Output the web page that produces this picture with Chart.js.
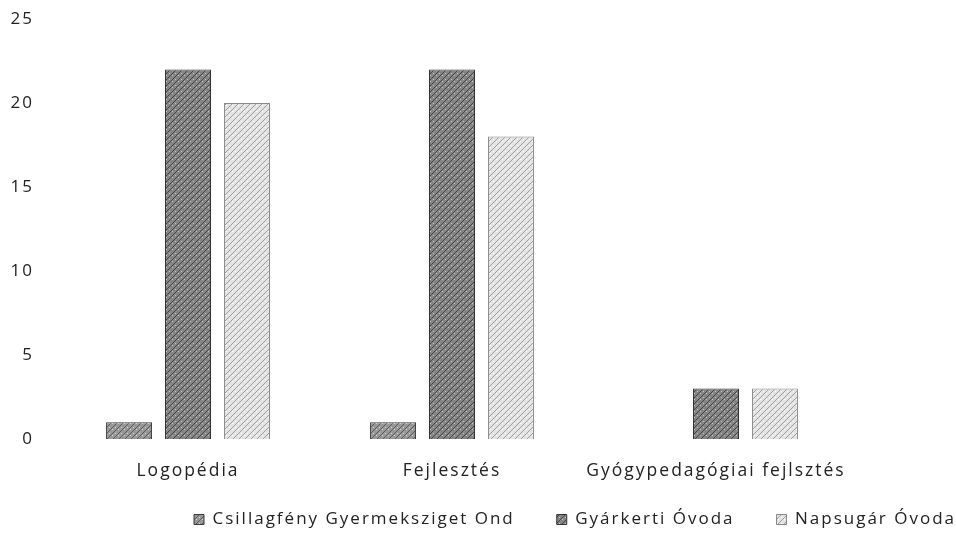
<!DOCTYPE html>
<html>
<head>
<meta charset="utf-8">
<script src="https://cdn.jsdelivr.net/npm/chart.js@4/dist/chart.umd.min.js"></script>
<style>
html,body{margin:0;padding:0;background:#fff;}
#wrap{width:956px;height:540px;}
</style>
</head>
<body>
<div id="wrap"><canvas id="c" width="956" height="540"></canvas></div>
<script>
const categories = ['Logopédia', 'Fejlesztés', 'Gyógypedagógiai fejlsztés'];
const seriesNames = ['Csillagfény Gyermeksziget Ond', 'Gyárkerti Óvoda', 'Napsugár Óvoda'];
const csillagfeny = [1, 1, 0];
const gyarkerti = [22, 22, 3];
const napsugar = [20, 18, 3];
const yTicks = [0, 5, 10, 15, 20, 25];

function makePattern(base, line, dot) {
  const p = document.createElement('canvas');
  p.width = 6; p.height = 6;
  const g = p.getContext('2d');
  g.fillStyle = base; g.fillRect(0, 0, 6, 6);
  g.fillStyle = line;
  for (let i = 0; i < 6; i++) { g.fillRect(i, 5 - i, 1, 1); }
  g.fillStyle = dot;
  g.fillRect(1, 1, 1, 1); g.fillRect(4, 3, 1, 1);
  return document.getElementById('c').getContext('2d').createPattern(p, 'repeat');
}
const fills = [
  makePattern('#989898', '#5c5c5c', '#d8d8d8'),
  makePattern('#858585', '#474747', '#c4c4c4'),
  makePattern('#e4e4e4', '#a0a0a0', '#ffffff')
];
const borders = ['#3a3a3a', '#333', '#888'];
const dataSets = [csillagfeny, gyarkerti, napsugar];

const spacingPlugin = {
  id: 'spacing',
  beforeUpdate(chart) { chart.ctx.letterSpacing = '2px'; },
  beforeLayout(chart) { chart.ctx.letterSpacing = '2px'; },
  beforeDraw(chart) { chart.ctx.letterSpacing = '2px'; },
  afterInit(chart) {
    const lg = chart.legend;
    if (lg) {
      const origFit = lg.fit.bind(lg);
      lg.fit = function () { origFit(); this.height = 56; };
      const origDraw = lg.draw.bind(lg);
      lg.draw = function () {
        const t = this.top;
        this.top = t - 15;
        origDraw();
        this.top = t;
      };
    }
  }
};

new Chart(document.getElementById('c'), {
  type: 'bar',
  data: {
    labels: categories,
    datasets: dataSets.map((d, i) => ({
      label: seriesNames[i],
      data: d,
      backgroundColor: fills[i],
      borderColor: borders[i],
      borderWidth: 1,
      categoryPercentage: 0.67,
      barPercentage: 0.78
    }))
  },
  plugins: [spacingPlugin],
  options: {
    responsive: false,
    animation: false,
    devicePixelRatio: 1,
    layout: { padding: { left: 8, right: -42, top: 0, bottom: 0 } },
    scales: {
      x: {
        grid: { display: false, drawTicks: false },
        border: { display: false },
        afterFit: (axis) => { axis.height = 45; },
        ticks: { color: '#222', font: { family: 'Open Sans', size: 17.5 }, padding: 22, maxRotation: 0 }
      },
      y: {
        min: 0, max: 25,
        afterBuildTicks: (axis) => { axis.ticks = yTicks.map(v => ({ value: v })); },
        afterFit: (axis) => { axis.width = 48; axis.paddingTop = 19; axis.paddingBottom = 10; },
        grid: { display: false, drawTicks: false },
        border: { display: false },
        ticks: { color: '#222', font: { family: 'Open Sans', size: 17 }, padding: 22 }
      },
      yRight: {
        position: 'right',
        display: true,
        grid: { display: false, drawTicks: false },
        border: { display: false },
        ticks: { display: false },
        afterFit: (axis) => { axis.width = 150; axis.paddingTop = 0; axis.paddingBottom = 0; }
      }
    },
    plugins: {
      tooltip: { enabled: false },
      legend: {
        position: 'bottom',
        align: 'end',
        labels: {
          color: '#222',
          font: { family: 'Open Sans', size: 17 },
          boxWidth: 10, boxHeight: 10,
          padding: 42
        }
      }
    }
  }
});
</script>
</body>
</html>
